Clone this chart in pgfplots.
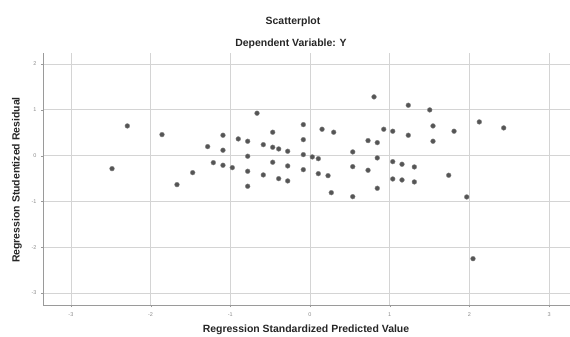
\documentclass[border=0pt]{standalone}
\usepackage{pgfplots}
\pgfplotsset{compat=1.18}
\usepackage{fontspec}
\setmainfont{Liberation Sans}
\definecolor{gridc}{HTML}{D4D4D4}
\definecolor{axc}{HTML}{9A9A9A}
\definecolor{markc}{HTML}{555555}
\definecolor{tickc}{HTML}{8A8A8A}
\begin{document}
\begin{tikzpicture}[x=1bp,y=1bp]
\useasboundingbox (0,0) rectangle (570,336);
\begin{axis}[
  at={(43bp,31bp)}, anchor=south west,
  scale only axis, width=527bp, height=252bp,
  xmin=-3.35, xmax=3.262, ymin=-3.26, ymax=2.24,
  xtick={-3,-2,-1,0,1,2,3}, ytick={-3,-2,-1,0,1,2},
  grid=major, major grid style={gridc, line width=0.7bp},
  axis lines*=left, axis line style={axc, line width=0.9bp},
  tick style={axc}, tick align=outside, major tick length=2bp,
  tick label style={font=\fontsize{5.5}{6.5}\selectfont, text=tickc},
  /pgf/number format/assume math mode=true,
  xticklabel style={yshift=-2bp},
  yticklabel style={xshift=-1bp},
  clip=false,
]
\addplot[only marks, mark=*, mark size=2.4bp, mark options={fill=markc, draw=markc!70}] coordinates {
(-2.292,0.648) (-2.484,-0.284) (-1.857,0.459) (-1.472,-0.371) (-1.669,-0.633)
(-1.284,0.197) (-1.213,-0.153) (-1.092,0.445) (-1.092,0.118) (-1.092,-0.210)
(-0.975,-0.262) (-0.900,0.365) (-0.782,0.314) (-0.782,-0.013) (-0.782,-0.341)
(-0.782,-0.668) (-0.665,0.926) (-0.586,0.240) (-0.586,-0.421) (-0.468,0.511)
(-0.468,0.183) (-0.468,-0.144) (-0.393,0.146) (-0.393,-0.502) (-0.280,0.096)
(-0.280,-0.225) (-0.280,-0.552) (-0.084,0.677) (-0.084,0.349) (-0.084,0.022)
(-0.084,-0.306) (0.029,-0.028) (0.104,-0.066) (0.104,-0.393) (0.151,0.576)
(0.226,-0.437) (0.267,-0.808) (0.297,0.511) (0.536,0.081) (0.536,-0.240)
(0.536,-0.895) (0.728,0.328) (0.728,-0.319) (0.803,1.282) (0.844,0.284)
(0.844,-0.050) (0.844,-0.712) (0.925,0.576) (1.038,0.533) (1.038,-0.131)
(1.038,-0.509) (1.154,-0.188) (1.154,-0.531) (1.233,1.100) (1.233,0.445)
(1.309,-0.247) (1.309,-0.574) (1.502,0.998) (1.543,0.648) (1.543,0.314)
(1.740,-0.428) (1.807,0.533) (1.966,-0.902) (2.124,0.736) (2.430,0.605)
(2.045,-2.249)
};
\end{axis}
\node[font=\bfseries\fontsize{10.5}{12}\selectfont, text=black!85] at (293,314) {Scatterplot};
\node[font=\bfseries\fontsize{10.5}{12}\selectfont, text=black!85] at (291,292) {Dependent Variable: Y};
\node[font=\bfseries\fontsize{10.5}{12}\selectfont, text=black!85] at (306,6) {Regression Standardized Predicted Value};
\node[font=\bfseries\fontsize{10.5}{12}\selectfont, text=black!85, rotate=90] at (17,156) {Regression Studentized Residual};
\end{tikzpicture}
\end{document}
